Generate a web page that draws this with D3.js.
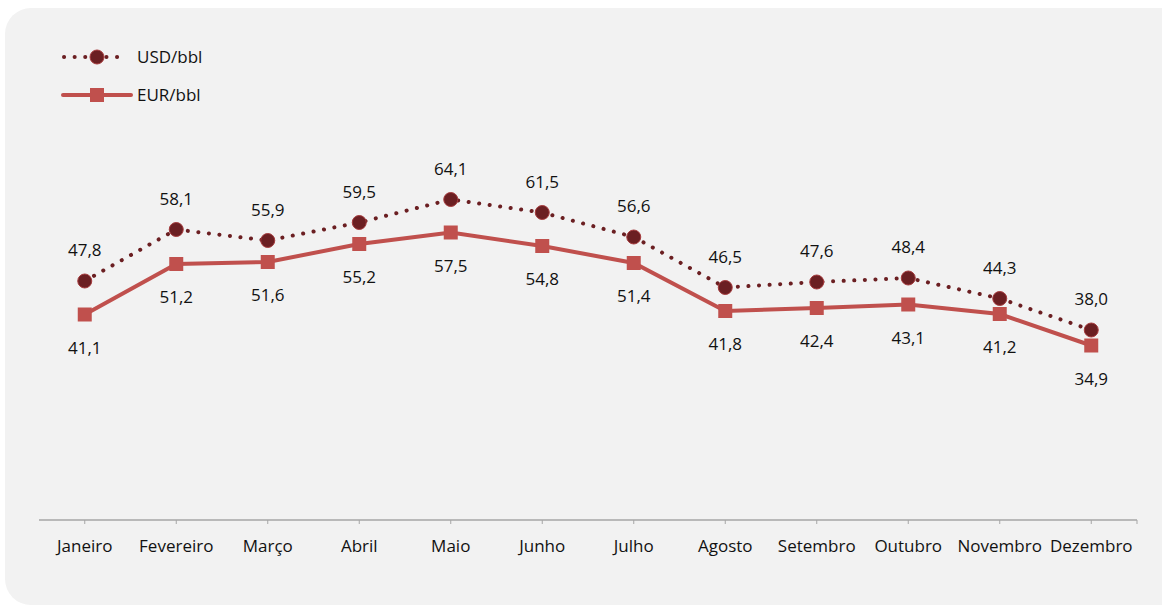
<!DOCTYPE html>
<html>
<head>
<meta charset="utf-8">
<script src="https://cdn.jsdelivr.net/npm/d3@7"></script>
<style>
  body { margin: 0; background: #fff; }
  text { font-family: "Open Sans", sans-serif; fill: #111; font-size: 17px; }
</style>
</head>
<body>
<script>
const months = ["Janeiro", "Fevereiro", "Março", "Abril", "Maio", "Junho", "Julho",
  "Agosto", "Setembro", "Outubro", "Novembro", "Dezembro"];
const usd = [47.8, 58.1, 55.9, 59.5, 64.1, 61.5, 56.6, 46.5, 47.6, 48.4, 44.3, 38.0];
const eur = [41.1, 51.2, 51.6, 55.2, 57.5, 54.8, 51.4, 41.8, 42.4, 43.1, 41.2, 34.9];

const W = 1162, H = 610;
const usdColor = "#6b1f22", eurColor = "#c0504d";
const fmt = v => d3.format(".1f")(v).replace(".", ",");

const svg = d3.select("body").append("svg")
  .attr("width", W)
  .attr("height", H);

svg.append("rect")
  .attr("x", 5).attr("y", 8)
  .attr("width", W - 5 + 30).attr("height", 597)
  .attr("rx", 26)
  .attr("fill", "#f2f2f2");

const x = d3.scaleBand()
  .domain(months)
  .range([39, 1137]);

const y = d3.scaleLinear()
  .domain([0, 80])
  .range([520, 120]);

const cx = d => x(d) + x.bandwidth() / 2;

// axis
const axis = svg.append("g")
  .attr("transform", "translate(0,520)");
axis.append("line")
  .attr("x1", 39).attr("x2", 1137)
  .attr("stroke", "#a6a6a6").attr("stroke-width", 1.5);
axis.selectAll("line.tick")
  .data(months)
  .enter().append("line")
  .attr("class", "tick")
  .attr("x1", cx).attr("x2", cx)
  .attr("y1", 0).attr("y2", 4)
  .attr("stroke", "#a6a6a6");
axis.append("line")
  .attr("x1", 1137).attr("x2", 1137)
  .attr("y1", 0).attr("y2", 4)
  .attr("stroke", "#a6a6a6");
axis.selectAll("text")
  .data(months)
  .enter().append("text")
  .attr("x", cx)
  .attr("y", 32)
  .attr("text-anchor", "middle")
  .text(d => d);

const line = d3.line()
  .x((d, i) => cx(months[i]))
  .y(d => y(d));

// EUR
svg.append("path")
  .datum(eur)
  .attr("d", line)
  .attr("fill", "none")
  .attr("stroke", eurColor)
  .attr("stroke-width", 4);

svg.selectAll("rect.eur")
  .data(eur)
  .enter().append("rect")
  .attr("class", "eur")
  .attr("x", (d, i) => cx(months[i]) - 7)
  .attr("y", d => y(d) - 7)
  .attr("width", 14).attr("height", 14)
  .attr("fill", eurColor);

// USD
svg.append("path")
  .datum(usd)
  .attr("d", line)
  .attr("fill", "none")
  .attr("stroke", usdColor)
  .attr("stroke-width", 4)
  .attr("stroke-linecap", "round")
  .attr("stroke-dasharray", "0.1 10.5");

svg.selectAll("circle.usd")
  .data(usd)
  .enter().append("circle")
  .attr("class", "usd")
  .attr("cx", (d, i) => cx(months[i]))
  .attr("cy", d => y(d))
  .attr("r", 7)
  .attr("fill", usdColor)
  .attr("stroke", "#a53a3c")
  .attr("stroke-width", 1);

// labels
svg.selectAll("text.usdl")
  .data(usd)
  .enter().append("text")
  .attr("class", "usdl")
  .attr("x", (d, i) => cx(months[i]))
  .attr("y", d => y(d) - 25)
  .attr("text-anchor", "middle")
  .text(fmt);

svg.selectAll("text.eurl")
  .data(eur)
  .enter().append("text")
  .attr("class", "eurl")
  .attr("x", (d, i) => cx(months[i]))
  .attr("y", d => y(d) + 39)
  .attr("text-anchor", "middle")
  .text(fmt);

// legend
const lg = svg.append("g");
lg.append("line")
  .attr("x1", 64).attr("x2", 123).attr("y1", 57).attr("y2", 57)
  .attr("stroke", usdColor).attr("stroke-width", 4)
  .attr("stroke-linecap", "round")
  .attr("stroke-dasharray", "0.1 10.5");
lg.append("circle")
  .attr("cx", 97).attr("cy", 57).attr("r", 7)
  .attr("fill", usdColor).attr("stroke", "#a53a3c");
lg.append("text")
  .attr("x", 137).attr("y", 63)
  .text("USD/bbl");

lg.append("line")
  .attr("x1", 63).attr("x2", 131).attr("y1", 95).attr("y2", 95)
  .attr("stroke", eurColor).attr("stroke-width", 4)
  .attr("stroke-linecap", "round");
lg.append("rect")
  .attr("x", 90).attr("y", 88).attr("width", 14).attr("height", 14)
  .attr("fill", eurColor);
lg.append("text")
  .attr("x", 137).attr("y", 101)
  .text("EUR/bbl");
</script>
</body>
</html>
